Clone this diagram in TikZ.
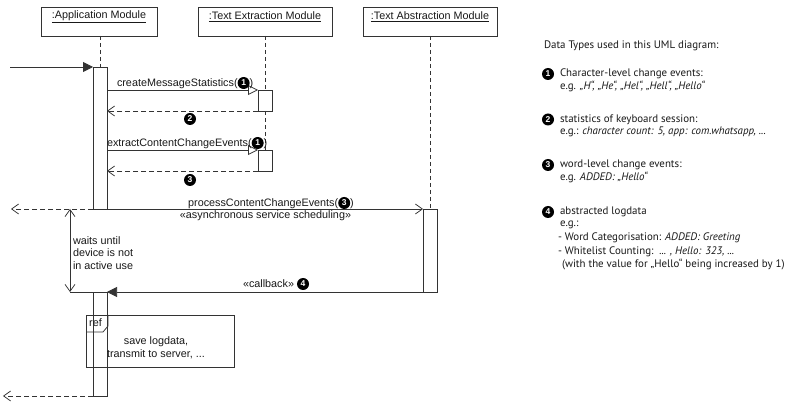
\documentclass[tikz,border=0pt]{standalone}
\usepackage{fontspec}
\setmainfont{Liberation Sans}
\newfontfamily\panelfont{PT Sans}
\usetikzlibrary{arrows.meta}
\newcommand\cn[1]{\tikz[baseline={([yshift=-3.2pt]cnn.center)}]\node[circle,fill=black,text=white,inner sep=0pt,minimum size=12pt,font=\fontsize{8.5}{8.5}\selectfont\bfseries](cnn){#1};}
\begin{document}
\begin{tikzpicture}[x=1pt,y=-1pt,
  every node/.style={inner sep=0pt, outer sep=0pt},
  diag/.style={font=\fontsize{10.8}{12.5}\selectfont, text=black!90},
  panel/.style={font=\panelfont\fontsize{10.9}{12}\selectfont, anchor=west, text=black!90},
  ln/.style={line width=0.75pt, draw=black!80},
  headbox/.style={ln, draw, minimum height=29pt},
  actbar/.style={ln, draw, minimum width=14pt},
  lifeline/.style={ln, dash pattern=on 4pt off 3pt},
  call/.style={ln, -{Triangle[open,length=10pt,width=10pt]}},
  sync/.style={ln, -{Triangle[length=10pt,width=10pt]}},
  asyn/.style={ln, -{Straight Barb[length=7pt,width=10pt]}},
  ret/.style={ln, dash pattern=on 5pt off 3pt, -{Straight Barb[length=7pt,width=10pt]}},
  dbl/.style={ln, {Straight Barb[length=7pt,width=10pt]}-{Straight Barb[length=7pt,width=10pt]}},
  numdot/.style={circle, fill=black, text=white, minimum size=12pt, font=\fontsize{8.5}{8.5}\selectfont\bfseries}
]
\fill[white] (0,0) rectangle (809,403);
\useasboundingbox (0,0) rectangle (809,403);

% headers
\node[headbox, minimum width=116pt] (hApp) at (99,21.5) {};
\node[headbox, minimum width=134pt] (hExt) at (265,21.5) {};
\node[headbox, minimum width=134pt] (hAbs) at (430,21.5) {};
\node[diag] (tApp) at (99,17) {\underline{:Application Module}};
\node[diag] (tExt) at (265,17) {\underline{:Text Extraction Module}};
\node[diag] (tAbs) at (430,17) {\underline{:Text Abstraction Module}};

% activation bars
\node[actbar, minimum height=142pt] (act1) at (100,138) {};
\node[actbar, minimum height=21pt] (ext1) at (265,100.5) {};
\node[actbar, minimum height=21pt] (ext2) at (265,160.5) {};
\node[actbar, minimum height=83pt] (abs1) at (430,250.5) {};
\node[actbar, minimum height=104pt] (act2) at (100,344) {};

% lifelines
\draw[lifeline] (act1.north |- hApp.south) -- (act1.north);
\draw[lifeline] (ext1.north |- hExt.south) -- (ext1.north);
\draw[lifeline] (ext1.south) -- (ext2.north);
\draw[lifeline] (abs1.north |- hAbs.south) -- (abs1.north);

% free ends
\coordinate (start) at (10,67);
\coordinate (out1) at (11,209);
\coordinate (w1) at (70,209);
\coordinate (w2) at (70,292);
\coordinate (out2) at (3,396);

% messages
\draw[sync] (start) -- (act1.north west);
\draw[call] (act1.east |- ext1.north) -- (ext1.north west);
\draw[ret] (ext1.south west) -- (act1.east |- ext1.south);
\draw[call] (act1.east |- ext2.north) -- (ext2.north west);
\draw[ret] (ext2.south west) -- (act1.east |- ext2.south);
\draw[asyn] (act1.south east) -- (abs1.north west);
\draw[ret] (act1.south west) -- (out1);
\draw[dbl] (w2) -- (w1);
\draw[sync] (abs1.south west) -- (act2.north east);
\draw[ln] (w2) -- (act2.north west);
\draw[ret] (act2.south west) -- (out2);

% labels
\node[diag, anchor=west] (l1) at (117,83) {createMessageStatistics(\cn{1})};
\node[numdot] (l2) at (190,119) {2};
\node[diag, anchor=west] (l3) at (107,143) {extractContentChangeEvents(\cn{1})};
\node[numdot] (l4) at (190,180) {3};
\node[diag] (l5) at (271,203) {processContentChangeEvents(\cn{3})};
\node[diag] (l6) at (265.5,216) {«asynchronous service scheduling»};
\node[diag, anchor=north west, align=left] (l7) at (73,236.5) {waits until\\device is not\\in active use};
\node[diag, anchor=west] (l8) at (243,284) {«callback» \cn{4}};

% ref frame
\node[ln, draw, minimum width=148pt, minimum height=52pt] (ref) at (160,341) {};
\draw[ln] (ref.north west) ++(22,0) -- ++(0,11) -- ++(-5,6) -- ++(-17,0);
\node[diag] (reflbl) at (95.5,323) {ref};
\node[diag, align=center] (reftxt) at (156,348) {save logdata,\\transmit to server, ...};

% right panel
\node[panel] (p0) at (544,45.5) {Data Types used in this UML diagram:};
\node[numdot] (n1) at (548,74) {1};
\node[panel] (p1) at (560,74) {Character-level change events:};
\node[panel] (p1b) at (560,86) {e.g. \textit{„H“, „He“, „Hel“, „Hell“, „Hello“}};
\node[numdot] (n2) at (548,119.5) {2};
\node[panel] (p2) at (560,119.5) {statistics of keyboard session:};
\node[panel] (p2b) at (560,131.5) {e.g.: \textit{character count: 5, app: com.whatsapp, ...}};
\node[numdot] (n3) at (548,165) {3};
\node[panel] (p3) at (560,165) {word-level change events:};
\node[panel] (p3b) at (560,177) {e.g. \textit{ADDED: „Hello“}};
\node[numdot] (n4) at (548,212) {4};
\node[panel] (p4) at (560,212) {abstracted logdata};
\node[panel] (p4a) at (560,224.5) {e.g.:};
\node[panel] (p4b) at (558,238) {- Word Categorisation: \textit{ADDED: Greeting}};
\node[panel] (p4c) at (558,251.5) {- Whitelist Counting:\ \ \textit{... , Hello: 323, ...}};
\node[panel] (p4d) at (562,264) {(with the value for „Hello“ being increased by 1)};
\end{tikzpicture}
\end{document}
